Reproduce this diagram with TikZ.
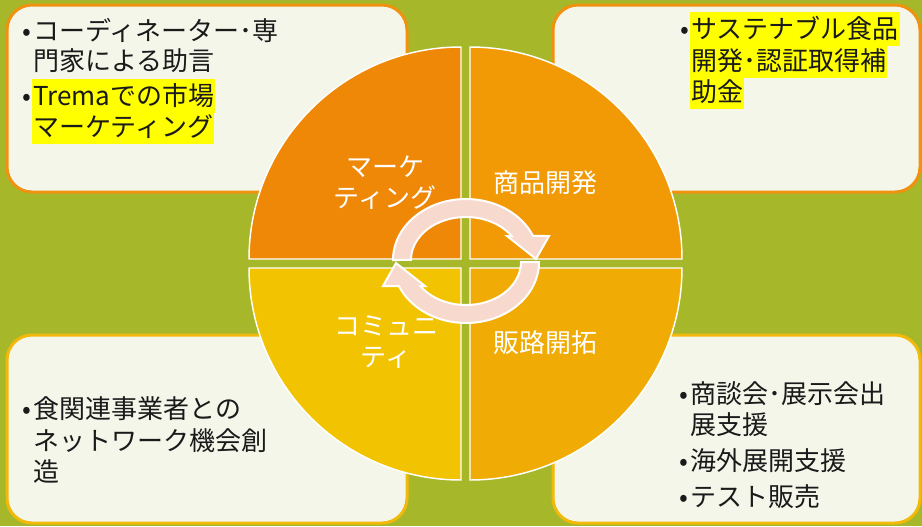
\documentclass[tikz,border=0pt]{standalone}
\usepackage{fontspec}
\setmainfont{Noto Sans CJK JP}
\definecolor{bggreen}{HTML}{A6B82A}
\definecolor{cream}{HTML}{F4F6EA}
\definecolor{boxorange}{HTML}{F09110}
\definecolor{boxyellow}{HTML}{F2B90A}
\definecolor{qmarket}{HTML}{EF8707}
\definecolor{qproduct}{HTML}{F19A06}
\definecolor{qsales}{HTML}{F0AC05}
\definecolor{qcommunity}{HTML}{F2C300}
\definecolor{arrowpink}{HTML}{F8D9CE}
\definecolor{hiyellow}{HTML}{FFFF00}
\definecolor{textblack}{HTML}{1A1A1A}
\newcommand{\itembul}{\llap{•\hspace{1.5pt}}}

\begin{document}
\begin{tikzpicture}[x=0.75pt,y=-0.75pt,
    txt/.style={anchor=west,inner xsep=0.75pt,inner ysep=0.75pt,text height=19.5pt,text depth=4.7pt,text=textblack,font=\fontsize{19.5}{23}\selectfont},
    hl/.style={txt,fill=hiyellow},
    lbl/.style={text=white,align=center,font=\fontsize{19.5}{23.25}\selectfont},
    quad/.style={draw=white,line width=1.1pt},
    infobox/.style={fill=cream,line width=2.25pt,rounded corners=18.75pt},
    cyc/.style={fill=arrowpink,draw=white,line width=1.5pt}]
    \useasboundingbox (0,0) rectangle (922,526);
    \fill[bggreen] (0,0) rectangle (922,526);

% boxes
    \draw[infobox,draw=boxorange] (7,5) rectangle (407,192);
    \draw[infobox,draw=boxorange] (553,5) rectangle (920,192);
    \draw[infobox,draw=boxyellow] (7,335) rectangle (407,523);
    \draw[infobox,draw=boxyellow] (553,335) rectangle (920,523);

% quarters of the circle
    \draw[quad,fill=qmarket] (461,259) -- (249,259) arc[start angle=180,end angle=270,radius=212] -- cycle;
    \draw[quad,fill=qproduct] (470,259) -- (470,47) arc[start angle=270,end angle=360,radius=212] -- cycle;
    \draw[quad,fill=qsales] (470,268) -- (682,268) arc[start angle=0,end angle=90,radius=212] -- cycle;
    \draw[quad,fill=qcommunity] (461,268) -- (461,480) arc[start angle=90,end angle=180,radius=212] -- cycle;

    \node[lbl] (qmk) at (385,182.5) {マーケ\\ティング};
    \node[lbl] (qpd) at (545,183) {商品開発};
    \node[lbl] (qsl) at (545,343) {販路開拓};
    \node[lbl] (qcm) at (386,342.5) {コミュニ\\ティ};

% cycle arrows
    \draw[cyc] (393,260) arc[start angle=180,end angle=336.8,x radius=73,y radius=61]
        -- (549,236) -- (536,259) -- (507,236) -- (511.6,236)
        arc[start angle=326.1,end angle=180,x radius=55,y radius=43] -- cycle;
    \begin{scope}[rotate around={180:(466,261)}]
    \draw[cyc] (393,260) arc[start angle=180,end angle=336.8,x radius=73,y radius=61]
        -- (549,236) -- (536,259) -- (507,236) -- (511.6,236)
        arc[start angle=326.1,end angle=180,x radius=55,y radius=43] -- cycle;
    \end{scope}

% texts
    \node[txt] (mk1) at (32,31) {\itembul コーディネーター･専};
    \node[txt] (mk2) at (32,61) {門家による助言};
    \node[hl] (mk3) at (32,96) {\itembul Tremaでの市場};
    \node[hl] (mk4) at (32,127) {マーケティング};

    \node[hl] (pd1) at (690,29) {\itembul サステナブル食品};
    \node[hl] (pd2) at (690,61) {開発･認証取得補};
    \node[hl] (pd3) at (690,92) {助金};

    \node[txt] (cm1) at (32,409) {\itembul 食関連事業者との};
    \node[txt] (cm2) at (32,441) {ネットワーク機会創};
    \node[txt] (cm3) at (32,472) {造};

    \node[txt] (sl1) at (689,394) {\itembul 商談会･展示会出};
    \node[txt] (sl2) at (689,425) {展支援};
    \node[txt] (sl3) at (689,461) {\itembul 海外展開支援};
    \node[txt] (sl4) at (689,497) {\itembul テスト販売};

\end{tikzpicture}
\end{document}
